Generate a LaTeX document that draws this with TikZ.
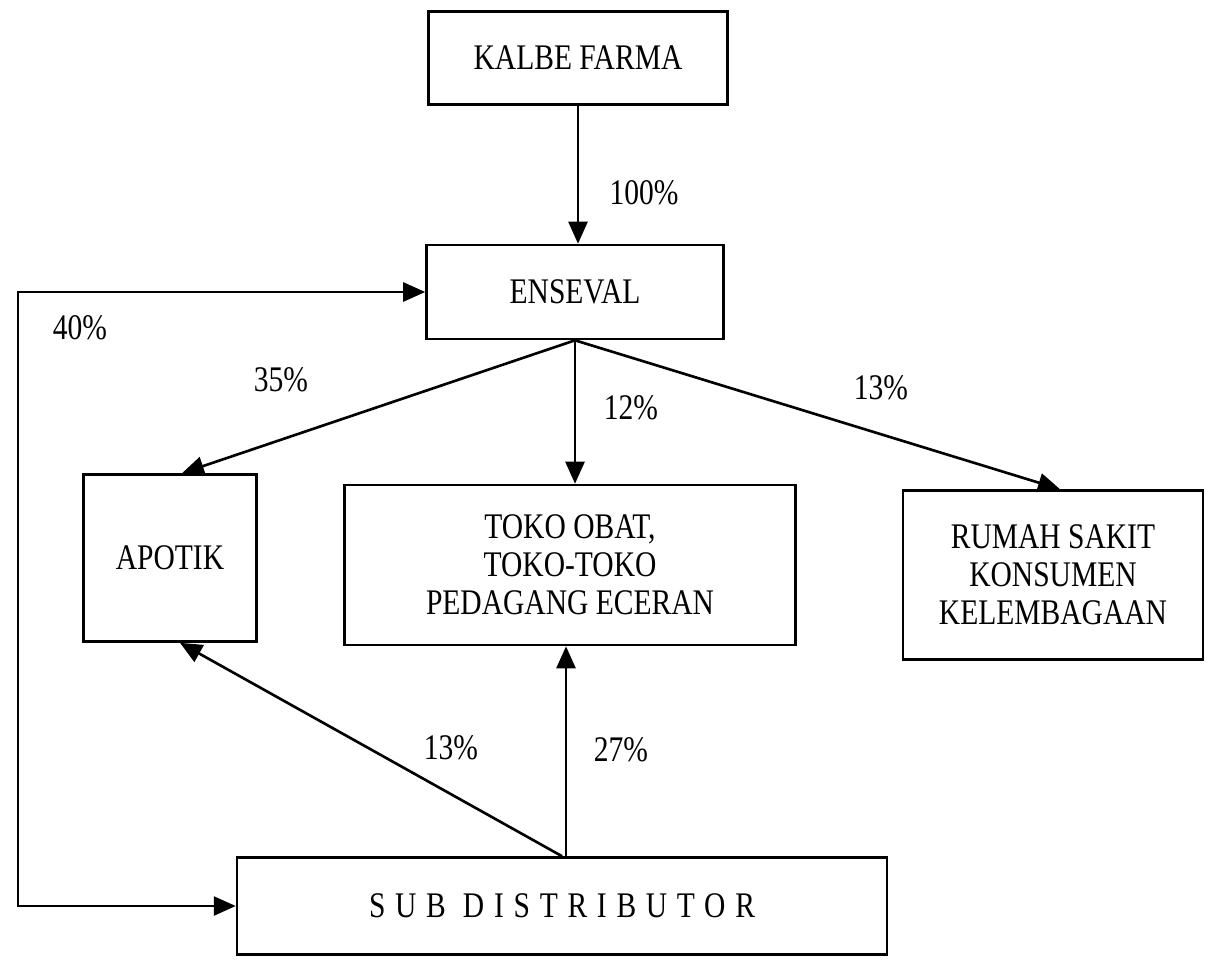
\documentclass[tikz,border=0pt]{standalone}
\usepackage{fontspec}
\setmainfont[FakeStretch=0.82]{Liberation Serif}
\usetikzlibrary{arrows.meta}

\begin{document}
\begin{tikzpicture}[x=0.02cm,y=-0.02cm,line width=1.5pt,
  >={Triangle[length=4.4mm,width=3.8mm]},
  every node/.style={font=\fontsize{20.5}{21.5}\selectfont},
  box/.style={draw,align=center,inner sep=0pt}]
\useasboundingbox (0,0) rectangle (1206,961);
\node[box,minimum width=5.98cm,minimum height=1.86cm] (kalbe) at (578,58) {KALBE FARMA};
\node[box,minimum width=5.94cm,minimum height=1.88cm] (enseval) at (575,292) {ENSEVAL};
\node[box,minimum width=3.46cm,minimum height=3.34cm] (apotik) at (170,558) {APOTIK};
\node[box,minimum width=9.02cm,minimum height=3.2cm] (toko) at (570,565) {TOKO OBAT,\\TOKO-TOKO\\PEDAGANG ECERAN};
\node[box,minimum width=6.0cm,minimum height=3.38cm] (rumah) at (1053,575) {RUMAH SAKIT\\KONSUMEN\\KELEMBAGAAN};
\node[box,minimum width=13.0cm,minimum height=1.94cm] (sub) at (562,906) {\addfontfeature{LetterSpace=27}SUB DISTRIBUTOR};
\coordinate (loop) at (18,0);
\draw[->] (kalbe.south) -- (kalbe.south |- enseval.north);
\draw[<->] (enseval.west) -- (enseval.west -| loop) -- (sub.west -| loop) -- (sub.west);
\draw[->] (enseval.south) -- ([xshift=0.24cm]apotik.north);
\draw[->] (enseval.south) -- (enseval.south |- toko.north);
\draw[->] (enseval.south) -- ([xshift=0.14cm]rumah.north);
\draw[->] (sub.north) -- ([xshift=0.2cm]apotik.south);
\draw[->] ([xshift=0.08cm]sub.north) -- ([xshift=0.08cm]sub.north |- toko.south);
\node (p100) at (644,193) {100\%};
\node (p40) at (80,328) {40\%};
\node (p35) at (281,380) {35\%};
\node (p12) at (631,408) {12\%};
\node (p13a) at (881,388) {13\%};
\node (p13b) at (451,748) {13\%};
\node (p27) at (621,750) {27\%};
\end{tikzpicture}
\end{document}
